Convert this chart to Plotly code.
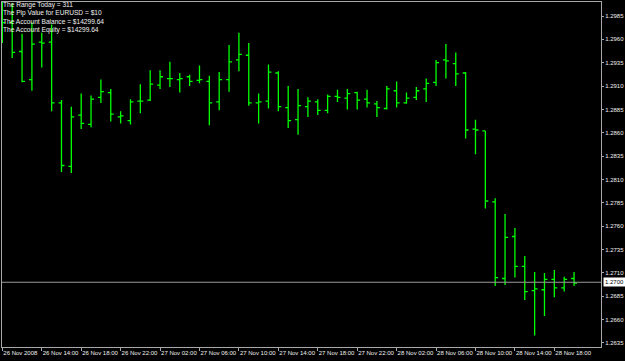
import plotly.graph_objects as go
import pandas as pd

# Hourly EURUSD bars, 26 Nov 2008 10:00 -> 28 Nov 2008 20:00
times = pd.date_range("2008-11-26 10:00", "2008-11-28 20:00", freq="h")

opens = [1.2994, 1.2978, 1.2947, 1.2917, 1.2957, 1.2957, 1.2892, 1.2824, 1.2879, 1.2869,
         1.2898, 1.2903, 1.2877, 1.2873, 1.2894, 1.2895, 1.2911, 1.2918, 1.2917, 1.2920,
         1.2916, 1.2915, 1.2893, 1.2917, 1.2938, 1.2943, 1.2892, 1.2894, 1.2924, 1.2887,
         1.2874, 1.2888, 1.2893, 1.2884, 1.2899, 1.2897, 1.2903, 1.2896, 1.2891, 1.2886,
         1.2905, 1.2892, 1.2898, 1.2907, 1.2914, 1.2938, 1.2934, 1.2924, 1.2864, 1.2862,
         1.2786, 1.2704, 1.2749, 1.2717, 1.2691, 1.2692, 1.2703, 1.2694, 1.2704]
highs = [1.3007, 1.2999, 1.2966, 1.2978, 1.2967, 1.2976, 1.2895, 1.2888, 1.2902, 1.2900,
         1.2917, 1.2907, 1.2883, 1.2896, 1.2912, 1.2927, 1.2927, 1.2936, 1.2924, 1.2922,
         1.2932, 1.2921, 1.2925, 1.2954, 1.2967, 1.2956, 1.2902, 1.2933, 1.2926, 1.2910,
         1.2907, 1.2898, 1.2896, 1.2901, 1.2906, 1.2907, 1.2904, 1.2906, 1.2894, 1.2910,
         1.2915, 1.2903, 1.2909, 1.2918, 1.2938, 1.2955, 1.2946, 1.2925, 1.2874, 1.2862,
         1.2790, 1.2773, 1.2758, 1.2728, 1.2711, 1.2710, 1.2713, 1.2706, 1.2711]
lows = [1.2956, 1.2940, 1.2914, 1.2905, 1.2930, 1.2883, 1.2818, 1.2817, 1.2864, 1.2866,
        1.2892, 1.2872, 1.2870, 1.2869, 1.2881, 1.2894, 1.2907, 1.2909, 1.2903, 1.2910,
        1.2913, 1.2868, 1.2884, 1.2904, 1.2926, 1.2889, 1.2870, 1.2886, 1.2883, 1.2865,
        1.2858, 1.2877, 1.2879, 1.2881, 1.2893, 1.2885, 1.2885, 1.2887, 1.2877, 1.2885,
        1.2887, 1.2891, 1.2895, 1.2893, 1.2910, 1.2918, 1.2910, 1.2854, 1.2837, 1.2779,
        1.2696, 1.2697, 1.2705, 1.2681, 1.2643, 1.2664, 1.2684, 1.2690, 1.2696]
closes = [1.2978, 1.2946, 1.2915, 1.2955, 1.2956, 1.2892, 1.2825, 1.2877, 1.2870, 1.2896,
          1.2904, 1.2880, 1.2878, 1.2893, 1.2894, 1.2912, 1.2920, 1.2918, 1.2918, 1.2915,
          1.2917, 1.2892, 1.2917, 1.2936, 1.2944, 1.2892, 1.2893, 1.2925, 1.2888, 1.2873,
          1.2889, 1.2894, 1.2884, 1.2899, 1.2898, 1.2902, 1.2895, 1.2892, 1.2887, 1.2907,
          1.2892, 1.2897, 1.2905, 1.2913, 1.2935, 1.2937, 1.2923, 1.2863, 1.2863, 1.2787,
          1.2705, 1.2748, 1.2717, 1.2690, 1.2693, 1.2703, 1.2694, 1.2703, 1.2699]

x_tick_vals = ["2008-11-26 10:00", "2008-11-26 14:00", "2008-11-26 18:00", "2008-11-26 22:00",
               "2008-11-27 02:00", "2008-11-27 06:00", "2008-11-27 10:00", "2008-11-27 14:00",
               "2008-11-27 18:00", "2008-11-27 22:00", "2008-11-28 02:00", "2008-11-28 06:00",
               "2008-11-28 10:00", "2008-11-28 14:00", "2008-11-28 18:00"]
x_tick_text = ["26 Nov 2008", "26 Nov 14:00", "26 Nov 18:00", "26 Nov 22:00",
               "27 Nov 02:00", "27 Nov 06:00", "27 Nov 10:00", "27 Nov 14:00",
               "27 Nov 18:00", "27 Nov 22:00", "28 Nov 02:00", "28 Nov 06:00",
               "28 Nov 10:00", "28 Nov 14:00", "28 Nov 18:00"]
y_tick_vals = [1.2985, 1.2960, 1.2935, 1.2910, 1.2885, 1.2860, 1.2835, 1.2810,
               1.2785, 1.2760, 1.2735, 1.2710, 1.2685, 1.2660, 1.2635]
y_tick_text = ["1.2985", "1.2960", "1.2935", "1.2910", "1.2885", "1.2860", "1.2835", "1.2810",
               "1.2785", "1.2760", "1.2735", "1.2710", "1.2685", "1.2660", "1.2635"]

current_price = 1.2700
info_lines = ["The Range Today = 311",
              "The Pip Value for EURUSD = $10",
              "The Account Balance = $14299.64",
              "The Account Equity = $14299.64"]

GREEN = "#00ff00"
FRAME = "#a8a8a8"
TXT = "#f0f0f0"
FONT = "Liberation Sans"

fig = go.Figure()
fig.add_trace(go.Ohlc(
    x=times, open=opens, high=highs, low=lows, close=closes,
    increasing=dict(line=dict(color=GREEN, width=1.3)),
    decreasing=dict(line=dict(color=GREEN, width=1.3)),
    tickwidth=0.3, hoverinfo="skip", showlegend=False,
))

fig.add_shape(type="line", xref="paper", x0=0, x1=1, yref="y",
              y0=current_price, y1=current_price,
              line=dict(color="#9a9a9a", width=1))

fig.add_annotation(xref="paper", x=1, yref="y", y=current_price,
                   text=f"{current_price:.4f}", showarrow=False,
                   xanchor="left", yanchor="middle", xshift=2,
                   bgcolor="#ffffff", borderpad=1,
                   font=dict(family=FONT, size=6, color="#000000"))

line_y = [4.5, 13.1, 21.7, 30.3]
for txt, py in zip(info_lines, line_y):
    fig.add_annotation(xref="paper", x=0, yref="paper", y=1, text=txt,
                       showarrow=False, xanchor="left", yanchor="middle",
                       xshift=0, yshift=-(py - 2), borderpad=0,
                       font=dict(family=FONT, size=6.6, color=TXT))

fig.update_layout(
    width=625, height=361,
    margin=dict(l=2, r=24, t=2, b=14, autoexpand=False),
    paper_bgcolor="#000000", plot_bgcolor="#000000",
    xaxis=dict(
        range=["2008-11-26 09:58", "2008-11-28 22:44"],
        rangeslider=dict(visible=False),
        tickvals=x_tick_vals, ticktext=x_tick_text,
        ticklabelposition="outside right", tickangle=0, automargin=False,
        showgrid=False, zeroline=False,
        showline=True, linecolor=FRAME, linewidth=1, mirror=True,
        ticks="outside", ticklen=3, tickcolor=FRAME,
        tickfont=dict(family=FONT, size=6, color=TXT),
    ),
    yaxis=dict(
        range=[1.26307, 1.30000], side="right", automargin=False,
        tickvals=y_tick_vals, ticktext=y_tick_text,
        showgrid=False, zeroline=False,
        showline=True, linecolor=FRAME, linewidth=1, mirror=True,
        ticks="outside", ticklen=2, tickcolor=FRAME,
        tickfont=dict(family=FONT, size=6, color=TXT),
    ),
)

fig.write_html("out.html")
